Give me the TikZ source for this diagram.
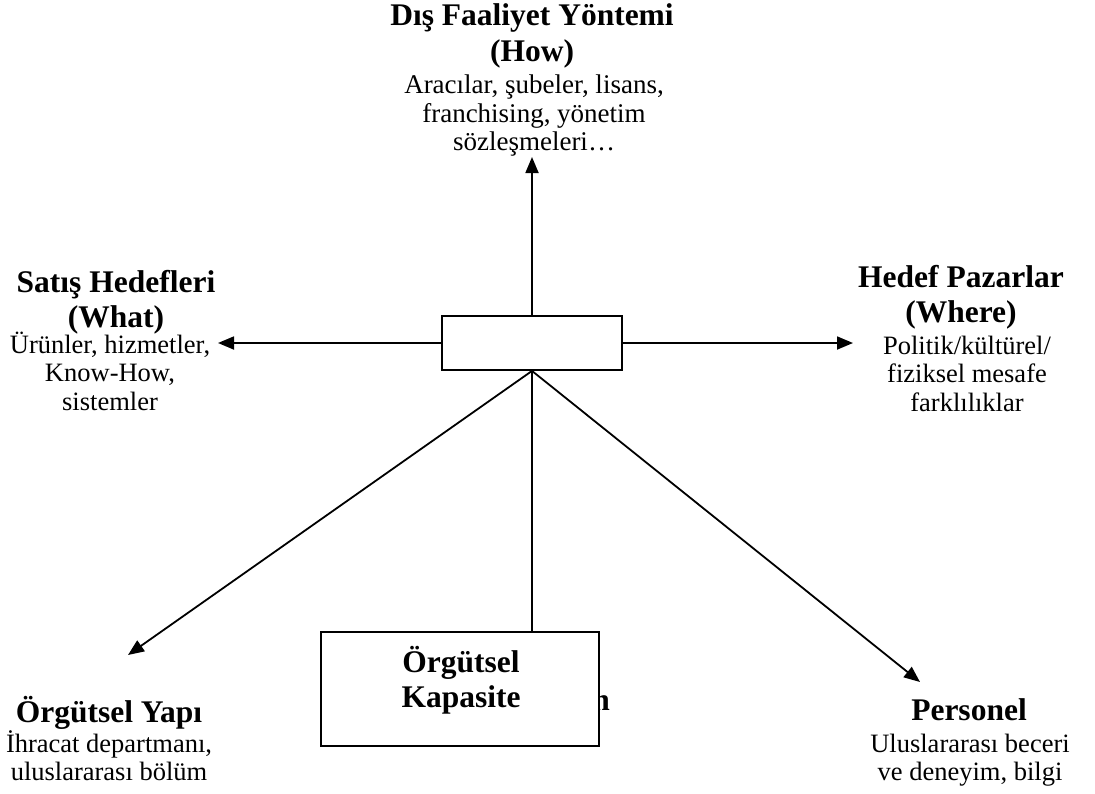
\documentclass[tikz,border=0pt]{standalone}
\usepackage{fontspec}
\setmainfont{Liberation Serif}
\usetikzlibrary{arrows.meta}

\tikzset{
  title/.style={align=center, inner sep=0pt, anchor=north,
    font=\bfseries\fontsize{31.5}{35.5}\selectfont},
  body/.style={align=center, inner sep=0pt, anchor=north,
    font=\fontsize{26.5}{28.3}\selectfont},
  frame/.style={draw, line width=1.8pt, fill=white, inner sep=0pt},
  link/.style={line width=1.8pt},
  arrowlink/.style={link, -{Triangle[length=16pt,width=13pt]}}
}

\begin{document}
\begin{tikzpicture}[x=1pt, y=-1pt]
  \useasboundingbox (0,0) rectangle (1095,793);

  % Dimension labels
  \node[title] (howT) at (532,3.5) {Dış Faaliyet Yöntemi\\(How)};
  \node[body, font=\fontsize{27}{28.5}\selectfont] (howB) at (534,75) {Aracılar, şubeler, lisans,\\franchising, yönetim\\sözleşmeleri…};

  \node[title] (whatT) at (116,270) {Satış Hedefleri\\(What)};
  \node[body]  (whatB) at (110,332) {Ürünler, hizmetler,\\Know-How,\\sistemler};

  \node[title] (whereT) at (961,265) {Hedef Pazarlar\\(Where)};
  \node[body]  (whereB) at (967,336) {Politik/kültürel/\\fiziksel mesafe\\farklılıklar};

  \node[title] (orgT) at (109,696) {Örgütsel Yapı};
  \node[body]  (orgB) at (109,730) {İhracat departmanı,\\uluslararası bölüm};

  \node[title] (perT) at (969,698) {Personel};
  \node[body]  (perB) at (970,734) {Uluslararası beceri\\ve deneyim, bilgi};

  % Finance label, mostly covered by the capacity box
  \node[inner sep=0pt, anchor=base east, font=\bfseries\fontsize{31.5}{35.5}\selectfont]
    (fin) at (610,710) {Finansman};

  % Central hub and capacity box
  \node[frame, minimum width=180pt, minimum height=54pt] (hub) at (532,343) {};
  \node[frame, minimum width=278pt, minimum height=114pt] (cap) at (460,689) {};
  \node[title] (capT) at (461,646) {Örgütsel\\Kapasite};

  % Arrow tips
  \coordinate (tipHow)   at (532,157);
  \coordinate (tipWhat)  at (218,343);
  \coordinate (tipWhere) at (853,343);
  \coordinate (tipOrg)   at (128,655);
  \coordinate (tipPer)   at (920,682);

  % Connectors
  \draw[arrowlink] (hub.north) -- (tipHow);
  \draw[arrowlink] (hub.west) -- (tipWhat);
  \draw[arrowlink] (hub.east) -- (tipWhere);
  \draw[arrowlink] (hub.south) -- (tipOrg);
  \draw[arrowlink] (hub.south) -- (tipPer);
  \draw[link] (hub.south) -- (cap.north -| hub.south);
\end{tikzpicture}
\end{document}
